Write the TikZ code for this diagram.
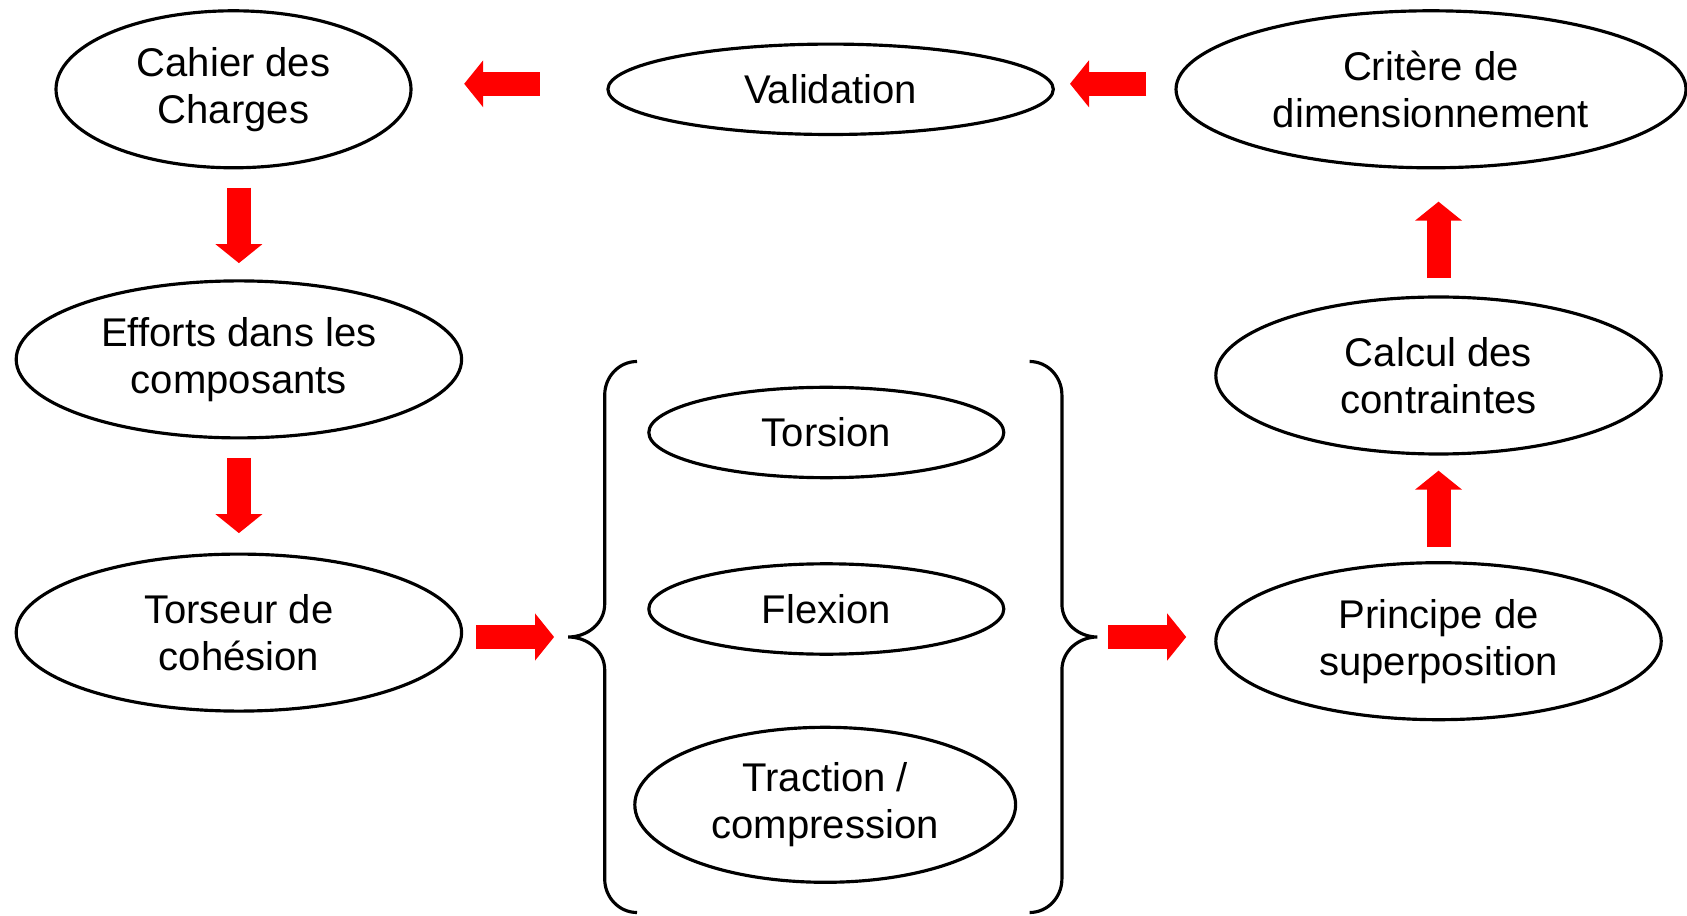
\documentclass[tikz,border=0pt]{standalone}
\usepackage{fontspec}
\setmainfont{Liberation Sans}
\usetikzlibrary{shapes.geometric,arrows.meta,positioning}

\begin{document}
\begin{tikzpicture}[on grid,
    etape/.style={ellipse,draw,line width=0.9pt,inner sep=0pt,align=center,
      minimum width=4.454cm,minimum height=1.57cm,
      font=\fontsize{11.4}{13.4}\selectfont},
    etapeplate/.style={etape,minimum height=0.904cm},
    accolade/.style={line width=0.9pt},
    redarrow/.style={color=red,line width=0.24cm,
      -{Triangle[length=0.19cm,width=0.46cm]}}]
   \useasboundingbox (0,0) rectangle (16.87,9.15);
   \node[etape,minimum width=3.55cm] (cahier) at (2.335,8.257) {Cahier des\\Charges};
   \node[etapeplate] (valid) [right=5.971cm of cahier] {Validation};
   \node[etape,minimum width=5.1cm] (crit) [right=6.004cm of valid] {Crit\`ere de\\dimensionnement};
   \node[etape] (efforts) [below right=2.701cm and 0.054cm of cahier] {Efforts dans les\\composants};
   \node[etape] (torseur) [below=2.732cm of efforts] {Torseur de\\coh\'esion};
   \node[etapeplate,minimum width=3.55cm] (torsion) at (8.263,4.825) {Torsion};
   \node[etapeplate,minimum width=3.55cm] (flexion) [below=1.765cm of torsion] {Flexion};
   \node[etape,minimum width=3.808cm,minimum height=1.55cm] (traction) [below left=1.958cm and 0.011cm of flexion] {Traction /\\compression};
   \node[etape] (calcul) [below right=2.862cm and 0.075cm of crit] {Calcul des\\contraintes};
   \node[etape] (principe) [below=2.657cm of calcul] {Principe de\\superposition};
   % accolades
   \coordinate (lbrace) at (5.681,2.78);
   \coordinate (rbrace) at (10.974,2.78);
   \draw[accolade] (6.37,5.535) to[out=180,in=90] (6.047,5.2) -- (6.047,3.11)
      to[out=-90,in=0] (lbrace) to[out=0,in=90] (6.047,2.45) -- (6.047,0.36)
      to[out=-90,in=180] (6.37,0.025);
   \draw[accolade] (10.296,5.535) to[out=0,in=90] (10.619,5.2) -- (10.619,3.11)
      to[out=-90,in=180] (rbrace) to[out=180,in=90] (10.619,2.45) -- (10.619,0.36)
      to[out=-90,in=0] (10.296,0.025);
   \path[redarrow]
    ([yshift=0.055cm]valid.west) edge[shorten <=0.667cm,shorten >=0.516cm] ([yshift=0.055cm]cahier.east)
    ([yshift=0.055cm]crit.west) edge[shorten <=0.28cm,shorten >=0.151cm] ([yshift=0.055cm]valid.east)
    (efforts |- cahier.south) edge[shorten <=0.183cm,shorten >=0.162cm] (efforts.north)
    (efforts.south) edge[shorten <=0.183cm,shorten >=0.194cm] (torseur.north)
    (lbrace -| torseur.east) edge[shorten <=0.129cm,shorten >=0.14cm] (lbrace)
    (rbrace) edge[shorten <=0.108cm,shorten >=0.28cm] (rbrace -| principe.west)
    (principe.north) edge[shorten <=0.14cm,shorten >=0.151cm] (calcul.south)
    (calcul.north) edge[shorten <=0.173cm,shorten >=0.323cm] (calcul |- crit.south);
\end{tikzpicture}
\end{document}
